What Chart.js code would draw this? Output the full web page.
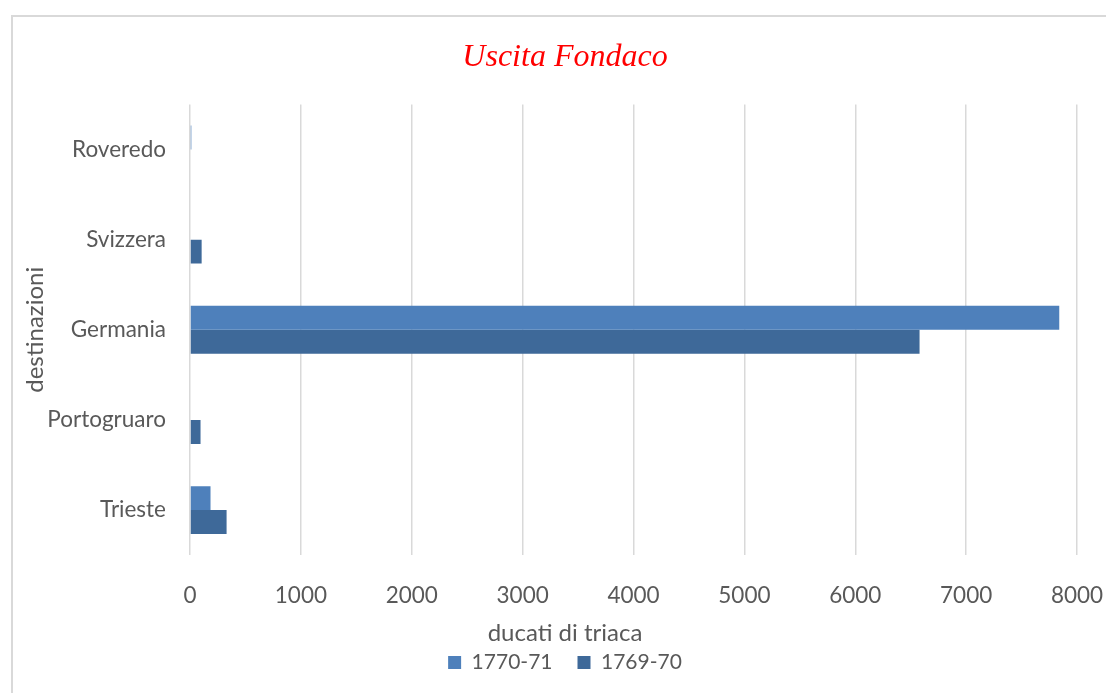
<!DOCTYPE html>
<html lang="it">
<head>
<meta charset="UTF-8">
<title>Uscita Fondaco</title>
<script src="https://cdn.jsdelivr.net/npm/chart.js"></script>
<style>
  html, body { margin: 0; padding: 0; background: #fff; overflow: hidden; }
  #frame { position: absolute; left: 11px; top: 15px; width: 1200px; height: 800px;
           border-left: 2px solid #d9d9d9; border-top: 2px solid #d9d9d9; }
  #wrap { position: absolute; left: 0; top: 0; width: 1106px; height: 693px; }
</style>
</head>
<body>
<div id="frame"></div>
<div id="wrap"><canvas id="myChart"></canvas></div>

<script>
// destinazioni (top to bottom) and ducati per year
const destinazioni = ['Roveredo', 'Svizzera', 'Germania', 'Portogruaro', 'Trieste'];
const anno1770_71 = [12, 0, 7840, 0, 185];
const anno1769_70 = [0, 105, 6580, 95, 330];
const xTicks = [0, 1000, 2000, 3000, 4000, 5000, 6000, 7000, 8000];

const grey = '#595959';
const sans = 'Lato';

const ctx = document.getElementById('myChart').getContext('2d');

new Chart(ctx, {
  type: 'bar',
  data: {
    labels: destinazioni,
    datasets: [{
      label: '1770-71',
      data: anno1770_71,
      backgroundColor: '#4e80bb',
      borderWidth: 0
    }, {
      label: '1769-70',
      data: anno1769_70,
      backgroundColor: '#3e6999',
      borderWidth: 0
    }]
  },
  options: {
    indexAxis: 'y',
    responsive: true,
    maintainAspectRatio: false,
    animation: false,
    barPercentage: 1,
    categoryPercentage: 0.532,
    layout: { padding: { left: 29, right: 5, top: 0, bottom: 10 } },
    plugins: {
      title: {
        display: true,
        text: 'Uscita Fondaco',
        color: '#ff0000',
        font: { family: 'Liberation Serif', size: 32, style: 'italic', weight: 'normal' },
        padding: { top: 38, bottom: 28 }
      },
      // the x axis title sits in the legend block, centred on the whole frame
      legend: {
        position: 'bottom',
        title: {
          display: true,
          text: 'ducati di triaca',
          color: grey,
          font: { family: sans, size: 24 },
          padding: { top: 0, bottom: -23 }
        },
        labels: {
          color: grey,
          boxWidth: 13,
          boxHeight: 13,
          padding: 25,
          font: { family: sans, size: 21 }
        }
      },
      tooltip: { enabled: false }
    },
    scales: {
      x: {
        min: 0,
        max: 8000,
        afterBuildTicks: axis => { axis.ticks = xTicks.map(v => ({ value: v })); },
        afterFit: axis => {
          axis.height = 66;
          axis.paddingLeft = 0;
          axis.paddingRight = 29;
        },
        grid: { color: '#d9d9d9', lineWidth: 1.5, drawTicks: false },
        border: { display: false },
        ticks: {
          color: grey,
          padding: 27,
          font: { family: sans, size: 22.5 },
          callback: v => String(v)
        }
      },
      y: {
        afterFit: axis => { axis.width = 161; },
        grid: { display: false, drawTicks: false },
        border: { display: false },
        ticks: { color: grey, padding: 24, font: { family: sans, size: 22.5 } },
        title: {
          display: true,
          text: 'destinazioni',
          color: grey,
          font: { family: sans, size: 24 },
          padding: { top: -8, bottom: 0 }
        }
      }
    }
  }
});
</script>
</body>
</html>
